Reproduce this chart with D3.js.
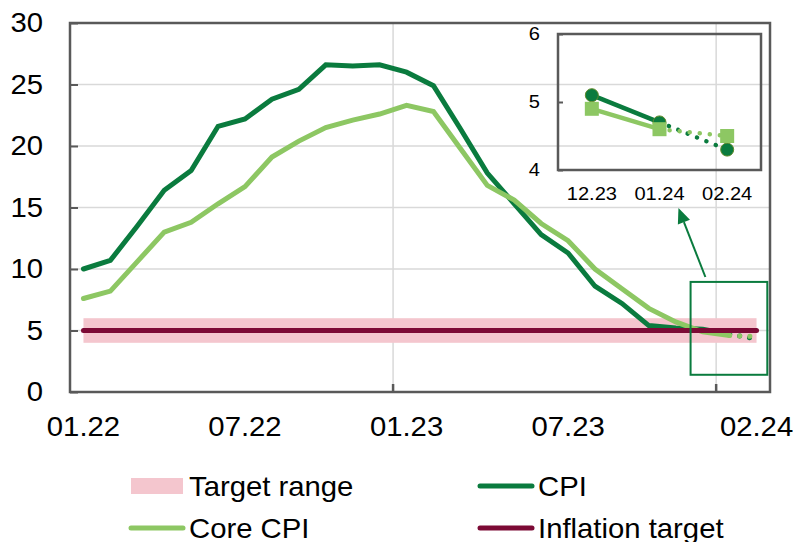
<!DOCTYPE html>
<html>
<head>
<meta charset="utf-8">
<script src="https://cdn.jsdelivr.net/npm/d3@7"></script>
<style>
  html, body { margin: 0; padding: 0; background: #ffffff; }
  svg { display: block; font-family: "Liberation Sans", Arial, sans-serif; }
</style>
</head>
<body>
<svg id="chart" width="793" height="542"></svg>
<script>
// ---------------- data ----------------
const months = ["01.22","02.22","03.22","04.22","05.22","06.22","07.22","08.22","09.22","10.22","11.22","12.22",
                "01.23","02.23","03.23","04.23","05.23","06.23","07.23","08.23","09.23","10.23","11.23","12.23",
                "01.24","02.24"];
const cpi     = [10.0, 10.7, 13.5, 16.4, 18.0, 21.6, 22.2, 23.8, 24.6, 26.6, 26.5, 26.6,
                 26.0, 24.9, 21.4, 17.8, 15.3, 12.8, 11.3, 8.6, 7.2, 5.4, 5.2, 5.1, 4.7, 4.3];
const coreCpi = [7.6, 8.2, 10.6, 13.0, 13.8, 15.3, 16.7, 19.1, 20.4, 21.5, 22.1, 22.6,
                 23.3, 22.8, 19.8, 16.8, 15.6, 13.7, 12.3, 10.0, 8.4, 6.8, 5.7, 4.9, 4.6, 4.5];
const inflationTarget = 5;
const targetRange = [4, 6];
const yTicks = [0, 5, 10, 15, 20, 25, 30];
const xTickLabels = ["01.22", "07.22", "01.23", "07.23", "02.24"];
const insetMonths = ["12.23", "01.24", "02.24"];
const insetYTicks = [4, 5, 6];
const legendLabels = ["Target range", "CPI", "Core CPI", "Inflation target"];

// ---------------- styles ----------------
const C_CPI = "#0a7b3e", C_CORE = "#8dc763", C_TARGET = "#7c0a35", C_RANGE = "#f4c6ce";
const C_AXIS = "#595959", C_GRID = "#d9d9d9";
const STRETCH = 1.085;

const svg = d3.select("#chart");
const x = d3.scaleBand().domain(months).range([70, 770]);
const cx = m => x(m) + x.bandwidth() / 2;
const y = d3.scaleLinear().domain([0, 30]).range([392, 23]);

// gridlines
svg.append("g").selectAll("line").data(yTicks.filter(v => v > 0 && v < 30)).join("line")
  .attr("x1", 70).attr("x2", 770).attr("y1", d => y(d)).attr("y2", d => y(d))
  .attr("stroke", C_GRID).attr("stroke-width", 1.5);
const yearStarts = months.filter((m, i) => i > 0 && m.startsWith("01."));
svg.append("g").selectAll("line").data(yearStarts).join("line")
  .attr("x1", d => x(d)).attr("x2", d => x(d)).attr("y1", y(30)).attr("y2", y(0))
  .attr("stroke", C_GRID).attr("stroke-width", 1.5);

// target range band
svg.append("rect")
  .attr("x", cx(months[0])).attr("width", cx(months[months.length - 1]) - cx(months[0]))
  .attr("y", y(targetRange[1])).attr("height", y(targetRange[0]) - y(targetRange[1]))
  .attr("fill", C_RANGE);

// series lines (solid until 01.24, dotted to 02.24)
const line = d3.line().x(d => cx(d.m)).y(d => y(d.v));
function drawSeries(vals, color) {
  const pts = vals.map((v, i) => ({ m: months[i], v }));
  svg.append("path").datum(pts.slice(0, pts.length - 1)).attr("d", line)
    .attr("fill", "none").attr("stroke", color).attr("stroke-width", 5)
    .attr("stroke-linejoin", "miter").attr("stroke-linecap", "round");
  svg.append("path").datum(pts.slice(pts.length - 2)).attr("d", line)
    .attr("fill", "none").attr("stroke", color).attr("stroke-width", 5)
    .attr("stroke-linecap", "round").attr("stroke-dasharray", "0.1,10");
}
drawSeries(cpi, C_CPI);
drawSeries(coreCpi, C_CORE);

// inflation target line
svg.append("line")
  .attr("x1", cx(months[0])).attr("x2", cx(months[months.length - 1]))
  .attr("y1", y(inflationTarget)).attr("y2", y(inflationTarget))
  .attr("stroke", C_TARGET).attr("stroke-width", 5).attr("stroke-linecap", "round");

// axes
const yAxis = d3.axisLeft(y).tickValues(yTicks).tickSizeInner(-8).tickSizeOuter(0).tickPadding(27);
const gy = svg.append("g").attr("transform", "translate(70,0)").call(yAxis);
gy.select(".domain").remove();
gy.selectAll(".tick line").attr("stroke", C_AXIS).attr("stroke-width", 2);
gy.selectAll(".tick text").attr("font-size", 27).attr("fill", "#000")
  .attr("x", -27 / STRETCH).attr("transform", `scale(${STRETCH},1)`);

const xAxis = d3.axisBottom(x).tickValues(xTickLabels).tickSize(0).tickPadding(25);
const gx = svg.append("g").attr("transform", "translate(0,392)").call(xAxis);
gx.select(".domain").remove();
gx.selectAll(".tick text").attr("font-size", 27).attr("fill", "#000").attr("transform", `scale(${STRETCH},1)`);

// year tick marks on x axis
svg.append("g").selectAll("line").data(yearStarts).join("line")
  .attr("x1", d => x(d)).attr("x2", d => x(d)).attr("y1", y(0)).attr("y2", y(0) - 8)
  .attr("stroke", C_AXIS).attr("stroke-width", 2.5);

// plot frame
svg.append("rect").attr("x", 70).attr("y", y(30)).attr("width", 700).attr("height", y(0) - y(30))
  .attr("fill", "none").attr("stroke", C_AXIS).attr("stroke-width", 2.5);

// ---------------- zoom annotation ----------------
const zoomBox = { from: 22.55, to: 25.4, top: 8.95, bottom: 1.4 };
const xi2px = i => cx(months[0]) + i * x.step();
svg.append("rect")
  .attr("x", xi2px(zoomBox.from)).attr("y", y(zoomBox.top))
  .attr("width", xi2px(zoomBox.to) - xi2px(zoomBox.from)).attr("height", y(zoomBox.bottom) - y(zoomBox.top))
  .attr("fill", "none").attr("stroke", C_CPI).attr("stroke-width", 2);

const arrowFrom = [xi2px(23.1), y(9.35)], arrowTo = [xi2px(22.1), y(14.95)];
{
  const dx = arrowTo[0] - arrowFrom[0], dy = arrowTo[1] - arrowFrom[1];
  const len = Math.hypot(dx, dy), ux = dx / len, uy = dy / len;
  const hl = 15, hw = 6.5;
  const bx = arrowTo[0] - ux * hl, by = arrowTo[1] - uy * hl;
  svg.append("line").attr("x1", arrowFrom[0]).attr("y1", arrowFrom[1]).attr("x2", bx).attr("y2", by)
    .attr("stroke", C_CPI).attr("stroke-width", 2);
  svg.append("path")
    .attr("d", `M${arrowTo[0]},${arrowTo[1]} L${bx - uy * hw},${by + ux * hw} L${bx + uy * hw},${by - ux * hw} Z`)
    .attr("fill", C_CPI);
}

// ---------------- inset ----------------
const xi = d3.scaleBand().domain(insetMonths).range([558, 761]);
const icx = m => xi(m) + xi.bandwidth() / 2;
const yi = d3.scaleLinear().domain([4, 6]).range([170, 34]);
const inset = svg.append("g");

const iyAxis = d3.axisLeft(yi).tickValues(insetYTicks).tickFormat(d3.format("d"))
  .tickSizeInner(-5).tickSizeOuter(0).tickPadding(18);
const giy = inset.append("g").attr("transform", "translate(558,0)").call(iyAxis);
giy.select(".domain").remove();
giy.selectAll(".tick line").attr("stroke", C_AXIS).attr("stroke-width", 2);
giy.selectAll(".tick text").attr("font-size", 18.5).attr("fill", "#000")
  .attr("x", -18 / STRETCH).attr("transform", `scale(${STRETCH},1)`);
const ixAxis = d3.axisBottom(xi).tickValues(insetMonths).tickSize(0).tickPadding(17);
const gix = inset.append("g").attr("transform", "translate(0,170)").call(ixAxis);
gix.select(".domain").remove();
gix.selectAll(".tick text").attr("font-size", 18.5).attr("fill", "#000").attr("transform", `scale(${STRETCH},1)`);

inset.append("rect").attr("x", 558).attr("y", 34).attr("width", 203).attr("height", 136)
  .attr("fill", "none").attr("stroke", C_AXIS).attr("stroke-width", 2.5);

const iline = d3.line().x(d => icx(d.m)).y(d => yi(d.v));
function insetSeries(vals, color) {
  const pts = vals.slice(-3).map((v, i) => ({ m: insetMonths[i], v }));
  inset.append("path").datum(pts.slice(0, 2)).attr("d", iline)
    .attr("fill", "none").attr("stroke", color).attr("stroke-width", 4.5);
  inset.append("path").datum(pts.slice(1)).attr("d", iline)
    .attr("fill", "none").attr("stroke", color).attr("stroke-width", 4.5)
    .attr("stroke-linecap", "round").attr("stroke-dasharray", "0.1,10");
  return pts;
}
const cpiPts = insetSeries(cpi, C_CPI);
const corePts = insetSeries(coreCpi, C_CORE);
inset.append("g").selectAll("circle").data(cpiPts).join("circle")
  .attr("cx", d => icx(d.m)).attr("cy", d => yi(d.v)).attr("r", 6.5)
  .attr("fill", C_CPI).attr("stroke", "#5f8a2a").attr("stroke-width", 1);
inset.append("g").selectAll("rect").data(corePts).join("rect")
  .attr("x", d => icx(d.m) - 7).attr("y", d => yi(d.v) - 7).attr("width", 14).attr("height", 14)
  .attr("fill", C_CORE);

// ---------------- legend ----------------
const legendItems = [
  { label: legendLabels[0], type: "rect", color: C_RANGE, col: 0, row: 0 },
  { label: legendLabels[1], type: "line", color: C_CPI, col: 1, row: 0 },
  { label: legendLabels[2], type: "line", color: C_CORE, col: 0, row: 1 },
  { label: legendLabels[3], type: "line", color: C_TARGET, col: 1, row: 1 }
];
const lg = svg.append("g");
legendItems.forEach(it => {
  const x0 = it.col === 0 ? 131 : 480;
  const yc = it.row === 0 ? 486 : 528;
  if (it.type === "rect") {
    lg.append("rect").attr("x", x0).attr("y", yc - 8).attr("width", 52).attr("height", 16).attr("fill", it.color);
  } else {
    lg.append("line").attr("x1", x0).attr("x2", x0 + 52).attr("y1", yc).attr("y2", yc)
      .attr("stroke", it.color).attr("stroke-width", 5).attr("stroke-linecap", "round");
  }
  lg.append("text").attr("transform", `translate(${x0 + 58},${yc + 9.5}) scale(${STRETCH},1)`)
    .attr("font-size", 27).attr("fill", "#000").text(it.label);
});
</script>
</body>
</html>
